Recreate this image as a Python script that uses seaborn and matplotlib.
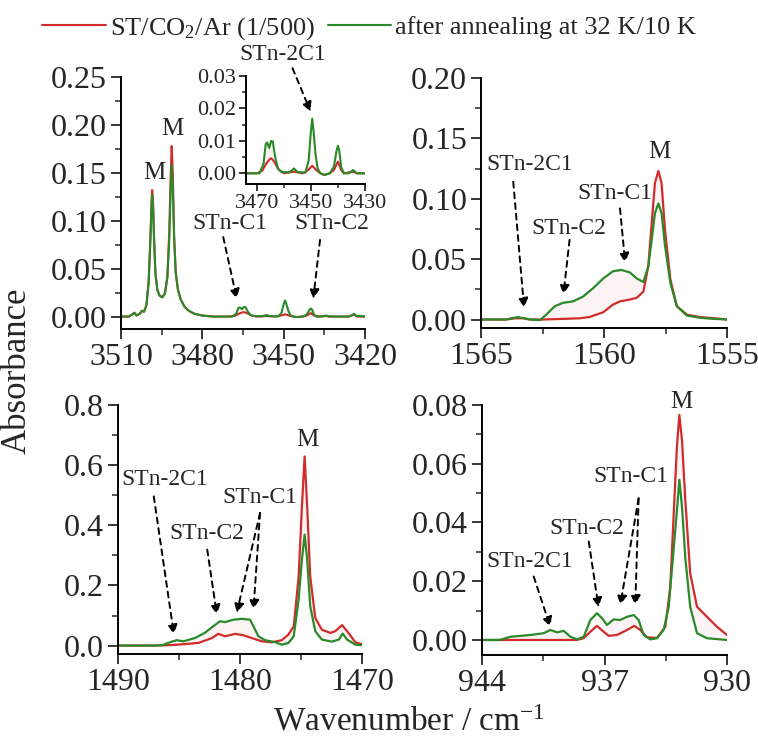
import numpy as np
import pandas as pd
import matplotlib
matplotlib.use('Agg')
import matplotlib.pyplot as plt
from matplotlib.ticker import MultipleLocator, FixedLocator
import seaborn as sns

# ---- data (wavenumber, absorbance) ----
# panel a: 3510-3420 cm-1 (inset uses the same spectra)
a_red_w = [3510, 3507, 3505.5, 3505, 3504.3, 3503, 3502.3, 3501.5, 3500.6, 3499.8, 3499.2, 3498.7,
           3498.5, 3498.2, 3497.8, 3497.3, 3496.6, 3495.8, 3494.8, 3493.8, 3492.9, 3492.2, 3491.7,
           3491.3, 3490.9, 3490.4, 3489.8, 3489, 3488, 3486.5, 3485, 3483, 3480, 3476, 3470, 3468,
           3466.5, 3465.2, 3464.6, 3463.5, 3462, 3460, 3456.2, 3453, 3451, 3449.5, 3448, 3446.5,
           3445, 3443, 3441.5, 3440, 3438.8, 3437.8, 3434.4, 3433, 3426, 3424, 3423, 3420]
a_red_v = [0.0, 0.0, 0.003, 0.004, 0.001, 0.003, 0.006, 0.005, 0.012, 0.037, 0.080, 0.122,
           0.132, 0.122, 0.082, 0.046, 0.028, 0.022, 0.020, 0.024, 0.042, 0.088, 0.145,
           0.178, 0.150, 0.085, 0.046, 0.028, 0.018, 0.010, 0.006, 0.003, 0.001, 0.0, 0.0, 0.0008,
           0.003, 0.0044, 0.0046, 0.0035, 0.0012, 0.0, 0.0005, 0.0, 0.001, 0.0023, 0.001, 0.0,
           -0.0005, 0.0, 0.001, 0.0036, 0.001, 0.0, 0.0005, 0.0, 0.0, 0.002, 0.0, 0.0]
a_green_w = [3510, 3507, 3505.5, 3505, 3504.3, 3503, 3502.3, 3501.5, 3500.6, 3499.8, 3499.2, 3498.7,
             3498.5, 3498.2, 3497.8, 3497.3, 3496.6, 3495.8, 3494.8, 3493.8, 3492.9, 3492.2, 3491.7,
             3491.3, 3490.9, 3490.4, 3489.8, 3489, 3488, 3486.5, 3485, 3483, 3480, 3476, 3472, 3469,
             3467.5, 3466.7, 3466.2, 3465.4, 3464.7, 3464.1, 3463.2, 3462.2, 3461, 3458, 3456.2, 3455,
             3452, 3450.8, 3450, 3449.5, 3449, 3448.3, 3447.5, 3446.5, 3445, 3443, 3441.5, 3440.5,
             3440, 3439.5, 3438.8, 3437.8, 3436, 3434.4, 3433, 3426, 3424.5, 3424, 3423.5, 3420]
a_green_v = [0.0, 0.0, 0.003, 0.004, 0.001, 0.003, 0.006, 0.005, 0.012, 0.035, 0.075, 0.115,
             0.127, 0.118, 0.080, 0.045, 0.028, 0.022, 0.020, 0.024, 0.040, 0.080, 0.130,
             0.158, 0.135, 0.080, 0.045, 0.028, 0.018, 0.010, 0.006, 0.003, 0.001, 0.0, 0.0, 0.0,
             0.003, 0.009, 0.0095, 0.0078, 0.0100, 0.0098, 0.005, 0.0015, 0.0005, 0.0003, 0.0015, 0.0004,
             0.0002, 0.004, 0.013, 0.0168, 0.013, 0.006, 0.0015, 0.0, -0.0005, 0.0, 0.002, 0.007,
             0.0085, 0.007, 0.002, 0.0, 0.0, 0.001, 0.0, 0.0, 0.002, 0.003, 0.001, 0.0]

# panel b: 1565-1555 cm-1
b_red_w = [1565, 1564, 1563.6, 1563.3, 1563.0, 1562.5, 1561.7, 1561.0, 1560.6, 1560.03, 1559.63,
           1559.35, 1558.95, 1558.67, 1558.4, 1558.2, 1558.06, 1557.93, 1557.79, 1557.66, 1557.52,
           1557.3, 1557.04, 1556.63, 1556.09, 1555.5, 1555]
b_red_v = [0.0, 0.0, 0.001, 0.001, 0.0, 0.0, 0.0005, 0.001, 0.002, 0.006, 0.0124,
           0.015, 0.0165, 0.018, 0.023, 0.044, 0.080, 0.113, 0.123, 0.113, 0.074,
           0.033, 0.011, 0.004, 0.002, 0.001, 0.0]
b_green_w = [1565, 1564, 1563.5, 1563.0, 1562.6, 1562.35, 1562.0, 1561.67, 1561.26, 1560.85, 1560.44,
             1560.03, 1559.63, 1559.29, 1558.95, 1558.67, 1558.4, 1558.2, 1558.06, 1557.93, 1557.79,
             1557.66, 1557.52, 1557.3, 1557.04, 1556.63, 1556.09, 1555.5, 1555]
b_green_v = [0.0, 0.0, 0.002, 0.0, -0.0005, 0.004, 0.011, 0.0138, 0.015, 0.019, 0.026,
             0.034, 0.040, 0.041, 0.039, 0.034, 0.031, 0.044, 0.066, 0.088, 0.096,
             0.088, 0.061, 0.030, 0.011, 0.0033, 0.0014, 0.0005, 0.0]

# panel c: 1490-1470 cm-1
c_red_w = [1490, 1487, 1485.5, 1484.5, 1483.4, 1482.3, 1481.8, 1481.23, 1480.4, 1479.7, 1479.04,
           1478.2, 1477.4, 1476.58, 1476.03, 1475.6, 1475.2, 1474.93, 1474.71, 1474.5, 1474.25,
           1473.84, 1473.3, 1472.6, 1472.2, 1471.64, 1471.23, 1470.55, 1469.6]
c_red_v = [0.0, 0.0, 0.002, 0.005, 0.009, 0.025, 0.039, 0.031, 0.039, 0.034, 0.025,
           0.014, 0.011, 0.018, 0.037, 0.064, 0.23, 0.463, 0.629, 0.463, 0.23,
           0.092, 0.053, 0.042, 0.048, 0.068, 0.048, 0.011, 0.0]
c_green_w = [1490, 1487, 1486.3, 1485.9, 1485.2, 1484.66, 1483.7, 1482.9, 1482.2, 1481.64, 1481.23,
             1480.55, 1479.86, 1479.18, 1478.9, 1478.5, 1477.95, 1477.1, 1476.58, 1476.03, 1475.6,
             1475.2, 1474.93, 1474.71, 1474.5, 1474.25, 1473.84, 1473.3, 1472.47, 1471.9, 1471.6,
             1471.23, 1470.55, 1469.6]
c_green_v = [0.0, 0.0, 0.002, 0.009, 0.018, 0.014, 0.025, 0.042, 0.064, 0.081, 0.078,
             0.086, 0.089, 0.086, 0.064, 0.031, 0.018, 0.011, 0.003, 0.009, 0.031,
             0.153, 0.286, 0.369, 0.286, 0.131, 0.048, 0.020, 0.013, 0.020, 0.040,
             0.020, 0.003, 0.0]

# panel d: 944-930 cm-1
d_red_w = [944, 942, 940, 938.6, 938.19, 937.81, 937.43, 937.05, 936.76, 936.29, 935.71, 935.3,
           934.95, 934.57, 934.0, 933.52, 933.24, 933.05, 932.86, 932.72, 932.57, 932.38, 932.1,
           931.71, 931.14, 930.57, 930.0]
d_red_v = [0.0, 0.0, 0.0, 0.0, 0.0006, 0.0028, 0.0048, 0.0028, 0.0014, 0.0017, 0.0034, 0.0048,
           0.0034, 0.0009, 0.0007, 0.0045, 0.018, 0.042, 0.0658, 0.0766, 0.068, 0.0477, 0.0227,
           0.0113, 0.0079, 0.0045, 0.0017]
d_green_w = [944, 943, 942.38, 941.24, 940.48, 940.1, 939.71, 939.33, 938.95, 938.57, 938.19,
             937.81, 937.43, 937.14, 936.86, 936.48, 936.1, 935.71, 935.33, 935.05, 934.76, 934.38,
             934.0, 933.62, 933.33, 933.05, 932.86, 932.72, 932.57, 932.38, 932.1, 931.71, 931.14,
             930]
d_green_v = [0.0, 0.0, 0.0011, 0.0017, 0.0023, 0.0034, 0.0026, 0.0031, 0.0011, 0.0002, 0.0011,
             0.0068, 0.0091, 0.0074, 0.0051, 0.0070, 0.0068, 0.0079, 0.0085, 0.0068, 0.0017, 0.0002,
             0.0006, 0.0034, 0.0113, 0.0306, 0.044, 0.0545, 0.0454, 0.028, 0.0113, 0.0023, 0.0006,
             0.0]

legend_labels = ['ST/CO$_2$/Ar (1/500)', 'after annealing at 32 K/10 K']
red = '#d12b2b'
green = '#2a8a2a'
fill_col = '#f2c4c4'

sns.set_style('ticks')
plt.rcParams['font.family'] = ['Liberation Serif', 'DejaVu Serif']
plt.rcParams['mathtext.fontset'] = 'custom'
plt.rcParams['mathtext.rm'] = 'Liberation Serif'
plt.rcParams['mathtext.it'] = 'Liberation Serif:italic'

fig = plt.figure(figsize=(7.58, 7.42), dpi=100)


def spectrum(ax, rw, rv, gw, gv, lw=1.6, fill=True, legend_lines=False):
    if fill:
        ax.fill(list(gw) + list(rw)[::-1], list(gv) + list(rv)[::-1],
                color=fill_col, alpha=0.18, lw=0)
    df_r = pd.DataFrame({'w': rw, 'A': rv})
    df_g = pd.DataFrame({'w': gw, 'A': gv})
    sns.lineplot(data=df_r, x='w', y='A', color=red, lw=lw, ax=ax, estimator=None,
                 label=legend_labels[0] if legend_lines else None)
    sns.lineplot(data=df_g, x='w', y='A', color=green, lw=lw, ax=ax, estimator=None,
                 label=legend_labels[1] if legend_lines else None)
    ax.set_xlabel('')
    ax.set_ylabel('')


def style(ax, xlim, ylim, xticks, xminor, ymaj, ymin, fmt, size=23):
    ax.set_xlim(*xlim)
    ax.set_ylim(*ylim)
    ax.xaxis.set_major_locator(FixedLocator(xticks))
    ax.xaxis.set_minor_locator(FixedLocator(xminor))
    ax.yaxis.set_major_locator(MultipleLocator(ymaj))
    ax.yaxis.set_minor_locator(MultipleLocator(ymin))
    ax.yaxis.set_major_formatter(plt.FormatStrFormatter(fmt))
    ax.xaxis.set_major_formatter(plt.FormatStrFormatter('%d'))
    ax.tick_params(which='major', direction='out', length=7, width=1.3, labelsize=size, pad=3)
    ax.tick_params(which='minor', direction='out', length=4, width=1.1)
    sns.despine(ax=ax)
    for s in ('left', 'bottom'):
        ax.spines[s].set_linewidth(1.4)
        ax.spines[s].set_color('black')
    ax.patch.set_alpha(0)


def arrow(ax, start, end):
    ax.annotate('', xy=end, xytext=start,
                arrowprops=dict(arrowstyle='-|>', color='black', lw=1.4, ls=(0, (3, 2.5)),
                                mutation_scale=14, shrinkA=0, shrinkB=0))


def label(ax, x, y, s, size=17):
    ax.text(x, y, s, ha='center', va='center', fontsize=size, clip_on=False)


# panel a
axa = fig.add_axes([0.1596, 0.5566, 0.322, 0.3396])
spectrum(axa, a_red_w, a_red_v, a_green_w, a_green_v, lw=1.5, legend_lines=True)
style(axa, (3510, 3420), (-0.013, 0.25), [3510, 3480, 3450, 3420], [3495, 3465, 3435],
      0.05, 0.025, '%.2f')
axa.get_legend().remove()
label(axa, 3497.5, 0.150, 'M', 18)
label(axa, 3490.9, 0.196, 'M', 18)
label(axa, 3469.8, 0.097, 'STn-C1')
arrow(axa, (3472.3, 0.083), (3467.3, 0.0185))
label(axa, 3432.3, 0.097, 'STn-C2')
arrow(axa, (3436.6, 0.080), (3439.1, 0.0185))

# inset of panel a
axi = fig.add_axes([0.3245, 0.752, 0.157, 0.1456])
spectrum(axi, a_red_w, a_red_v, a_green_w, a_green_v, lw=1.5)
style(axi, (3474, 3430), (-0.0033, 0.03), [3470, 3450, 3430], [3460, 3440],
      0.01, 0.005, '%.2f', size=16)
axi.tick_params(which='major', length=5, pad=2)
axi.tick_params(which='minor', length=3)
label(axi, 3460.4, 0.0365, 'STn-2C1')
arrow(axi, (3456.8, 0.0324), (3450.1, 0.019))

# panel b
axb = fig.add_axes([0.6346, 0.558, 0.3245, 0.337])
spectrum(axb, b_red_w, b_red_v, b_green_w, b_green_v)
style(axb, (1565, 1555), (-0.007, 0.20), [1565, 1560, 1555], [1562.5, 1557.5],
      0.05, 0.025, '%.2f')
label(axb, 1557.74, 0.139, 'M', 18)
label(axb, 1563.0, 0.128, 'STn-2C1')
arrow(axb, (1563.69, 0.114), (1563.25, 0.0097))
label(axb, 1561.44, 0.0757, 'STn-C2')
arrow(axb, (1561.4, 0.066), (1561.65, 0.0207))
label(axb, 1559.55, 0.1047, 'STn-C1')
arrow(axb, (1559.35, 0.092), (1559.14, 0.047))

# panel c
axc = fig.add_axes([0.1557, 0.1186, 0.322, 0.3356])
spectrum(axc, c_red_w, c_red_v, c_green_w, c_green_v)
style(axc, (1490, 1470), (-0.028, 0.8), [1490, 1480, 1470], [1485, 1475],
      0.2, 0.1, '%.1f')
label(axc, 1474.52, 0.684, 'M', 18)
label(axc, 1486.16, 0.551, 'STn-2C1')
arrow(axc, (1487.07, 0.496), (1485.42, 0.037))
label(axc, 1482.69, 0.372, 'STn-C2')
arrow(axc, (1482.69, 0.319), (1481.9, 0.103))
label(axc, 1478.41, 0.491, 'STn-C1')
arrow(axc, (1478.36, 0.441), (1480.27, 0.109))
arrow(axc, (1478.36, 0.441), (1478.9, 0.12))

# panel d
axd = fig.add_axes([0.636, 0.1173, 0.323, 0.337])
spectrum(axd, d_red_w, d_red_v, d_green_w, d_green_v)
style(axd, (944, 930), (-0.0051, 0.08), [944, 937, 930], [940.5, 933.5],
      0.02, 0.01, '%.2f')
label(axd, 932.61, 0.0811, 'M', 18)
label(axd, 941.28, 0.0267, 'STn-2C1')
arrow(axd, (941.05, 0.0216), (940.1, 0.0045))
label(axd, 938.04, 0.038, 'STn-C2')
arrow(axd, (937.9, 0.0335), (937.34, 0.0111))
label(axd, 935.47, 0.0556, 'STn-C1')
arrow(axd, (935.05, 0.0482), (936.1, 0.0119))
arrow(axd, (935.05, 0.0482), (935.24, 0.0119))

# shared legend and axis titles
handles, labels = axa.get_legend_handles_labels()
fig.legend(handles, legend_labels, loc='upper center', bbox_to_anchor=(0.487, 1.012), ncol=2,
           frameon=False, fontsize=19, handlelength=2.4, handletextpad=0.15, columnspacing=0.5)
fig.text(0.022, 0.50, 'Absorbance', rotation=90, ha='center', va='center', fontsize=25)
fig.text(0.54, 0.027, 'Wavenumber / cm$^{-1}$', ha='center', va='center', fontsize=24)

fig.savefig('out.png', dpi=100)
